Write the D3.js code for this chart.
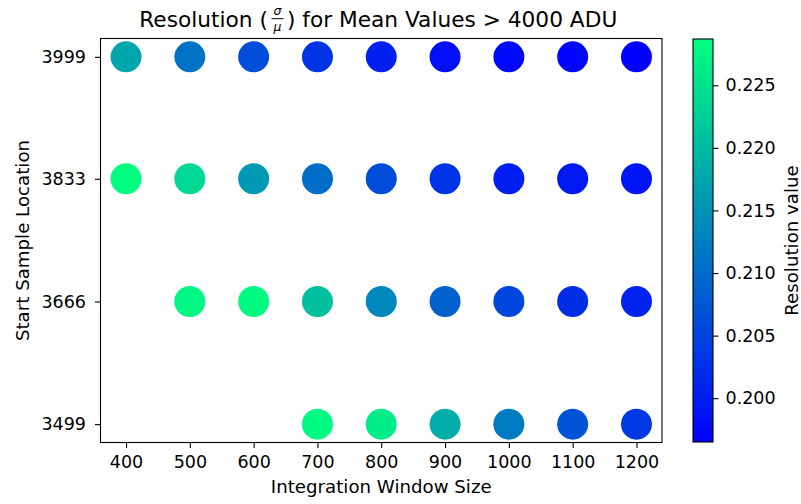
<!DOCTYPE html>
<html>
<head>
<meta charset="utf-8">
<script src="https://cdn.jsdelivr.net/npm/d3@7"></script>
<style>
  body { margin: 0; background: #fff; }
  text { font-family: "DejaVu Sans", sans-serif; fill: #000; }
</style>
</head>
<body>
<script>
// window sizes along x, start sample rows along y
const windows = [400, 500, 600, 700, 800, 900, 1000, 1100, 1200];
const starts = [3499, 3666, 3833, 3999];
// resolution per row (null = no point)
const res3999 = [0.2174, 0.2110, 0.2062, 0.2029, 0.2004, 0.1984, 0.1978, 0.1971, 0.1965];
const res3833 = [0.2287, 0.2239, 0.2158, 0.2103, 0.2062, 0.2029, 0.2004, 0.1997, 0.1991];
const res3666 = [null, 0.2277, 0.2281, 0.2207, 0.2136, 0.2087, 0.2052, 0.2023, 0.2010];
const res3499 = [null, null, null, 0.2281, 0.2264, 0.2184, 0.2120, 0.2071, 0.2036];
const cbarTicks = [0.200, 0.205, 0.210, 0.215, 0.220, 0.225];

const rows = [[3999, res3999], [3833, res3833], [3666, res3666], [3499, res3499]];
const points = [];
rows.forEach(([s, vals]) => vals.forEach((v, i) => {
  if (v != null) points.push({ w: windows[i], s: s, v: v });
}));

const W = 801, H = 504;
const m = { left: 100.5, right: 662, top: 38.5, bottom: 442.5 };
const FS = 17.5;   // tick labels
const LS = 18.2;   // axis labels

const svg = d3.select("body").append("svg").attr("width", W).attr("height", H);

const x = d3.scaleLinear().domain([360, 1240]).range([m.left, m.right]);
const y = d3.scaleLinear().domain([3474, 4024]).range([m.bottom, m.top]);

const vExt = d3.extent(points, (d) => d.v);
// matplotlib "winter": blue -> spring green
const winter = (t) => d3.rgb(0, 255 * t, 255 * (1 - 0.5 * t)).toString();
const color = d3.scaleSequential(winter).domain(vExt);

// points
svg.append("g")
  .selectAll("circle")
  .data(points)
  .join("circle")
  .attr("cx", (d) => x(d.w))
  .attr("cy", (d) => y(d.s))
  .attr("r", 15.5)
  .attr("fill", (d) => color(d.v));

// axes
const xAxis = svg.append("g")
  .attr("transform", `translate(0,${m.bottom})`)
  .call(d3.axisBottom(x).tickValues(windows).tickSize(5.5).tickPadding(8).tickFormat(d3.format("d")));
const yAxis = svg.append("g")
  .attr("transform", `translate(${m.left},0)`)
  .call(d3.axisLeft(y).tickValues(starts).tickSize(5.5).tickPadding(9).tickFormat(d3.format("d")));

// colorbar
const cb = { x: 693, w: 20, top: 39, bottom: 442 };
const cy = d3.scaleLinear().domain(vExt).range([cb.bottom, cb.top]);
const grad = svg.append("defs").append("linearGradient")
  .attr("id", "cbgrad").attr("x1", 0).attr("y1", 1).attr("x2", 0).attr("y2", 0);
d3.range(0, 1.0001, 0.1).forEach((t) => {
  grad.append("stop").attr("offset", t).attr("stop-color", winter(t));
});
svg.append("rect")
  .attr("x", cb.x).attr("y", cb.top).attr("width", cb.w).attr("height", cb.bottom - cb.top)
  .attr("fill", "url(#cbgrad)").attr("stroke", "#000").attr("stroke-width", 1.1);
const cAxis = svg.append("g")
  .attr("transform", `translate(${cb.x + cb.w},0)`)
  .call(d3.axisRight(cy).tickValues(cbarTicks).tickSize(5.5).tickPadding(7).tickFormat(d3.format(".3f")));

[xAxis, yAxis, cAxis].forEach((g) => {
  g.select(".domain").remove();
  g.selectAll("line").attr("stroke", "#000").attr("stroke-width", 1.1);
  g.attr("font-size", FS).attr("font-family", "DejaVu Sans");
  g.selectAll("text").attr("fill", "#000");
});

// frame
svg.append("rect")
  .attr("x", m.left).attr("y", m.top)
  .attr("width", m.right - m.left).attr("height", m.bottom - m.top)
  .attr("fill", "none").attr("stroke", "#000").attr("stroke-width", 1.1);

// axis labels
svg.append("text")
  .attr("x", (m.left + m.right) / 2).attr("y", 493)
  .attr("text-anchor", "middle").attr("font-size", LS)
  .text("Integration Window Size");
svg.append("text")
  .attr("transform", `translate(29,${(m.top + m.bottom) / 2}) rotate(-90)`)
  .attr("text-anchor", "middle").attr("font-size", LS)
  .text("Start Sample Location");
svg.append("text")
  .attr("transform", `translate(798,${(cb.top + cb.bottom) / 2}) rotate(-90)`)
  .attr("text-anchor", "middle").attr("font-size", LS)
  .text("Resolution value");

// title: "Resolution (σ/μ) for ..." as one text with a stacked fraction
const title = svg.append("g");
const tY = 27;
const tText = title.append("text").attr("font-size", 21.7);
const p1 = tText.append("tspan").attr("x", 0).attr("y", tY).text("Resolution (");
const w1 = p1.node().getComputedTextLength();
const fracW = 19;
const fc = w1 + fracW / 2;
tText.append("tspan").attr("font-size", 12.5).attr("font-style", "italic")
  .attr("x", fc - 3.8).attr("y", tY - 12).text("σ");
tText.append("tspan").attr("font-size", 12.5).attr("font-style", "italic")
  .attr("x", fc - 4).attr("y", tY + 4).text("μ");
const p2 = tText.append("tspan").attr("x", w1 + fracW).attr("y", tY)
  .text(") for Mean Values > 4000 ADU");
title.append("line")
  .attr("x1", fc - 6).attr("x2", fc + 6)
  .attr("y1", tY - 8.3).attr("y2", tY - 8.3)
  .attr("stroke", "#000").attr("stroke-width", 1);
const totalW = w1 + fracW + p2.node().getComputedTextLength();
title.attr("transform", `translate(${(m.left + m.right) / 2 - totalW / 2 - 3},0)`);
</script>
</body>
</html>
